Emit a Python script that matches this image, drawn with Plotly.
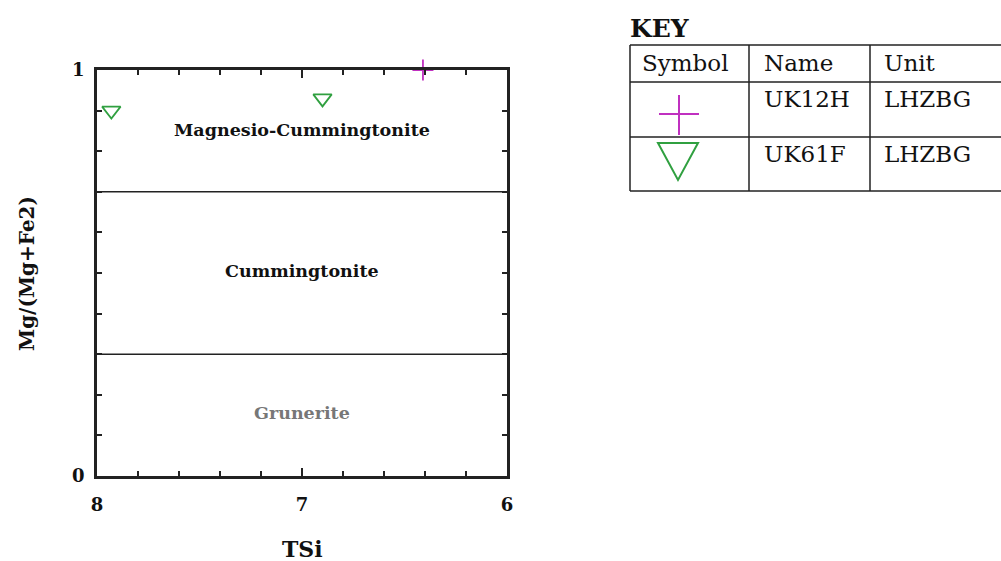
import plotly.graph_objects as go

# ---- data ----
uk12h_tsi = [6.41]
uk12h_mg = [1.00]
uk61f_tsi = [7.93, 6.90]
uk61f_mg = [0.90, 0.93]

boundaries = [0.7, 0.3]
fields = ["Magnesio-Cummingtonite", "Cummingtonite", "Grunerite"]
field_y = [0.852, 0.505, 0.155]

key_header = ["Symbol", "Name", "Unit"]
key_names = ["UK12H", "UK61F"]
key_units = ["LHZBG", "LHZBG"]

MAG = "#c030c0"
GRN = "#30a040"
W, H = 1001, 561
PL, PR, PT, PB = 97, 507, 70, 476
SERIF = "DejaVu Serif"

fig = go.Figure()
fig.add_trace(go.Scatter(x=uk12h_tsi, y=uk12h_mg, mode="markers", name="UK12H",
                         marker=dict(symbol="cross-thin-open", size=15, color=MAG,
                                     line=dict(color=MAG, width=1.8)),
                         cliponaxis=False, showlegend=False))
fig.add_trace(go.Scatter(x=uk61f_tsi, y=uk61f_mg, mode="markers", name="UK61F",
                         marker=dict(symbol="triangle-down-open", size=16,
                                     color=GRN, line=dict(color=GRN, width=1.8)),
                         cliponaxis=False, showlegend=False))

# field boundaries
for b in boundaries:
    fig.add_shape(type="line", xref="x", yref="y", x0=8, x1=6, y0=b, y1=b,
                  line=dict(color="#222", width=1.5))

for name, fy in zip(fields, field_y):
    fig.add_annotation(x=7.0, y=fy, xref="x", yref="y", text=f"<b>{name}</b>",
                       showarrow=False,
                       font=dict(family=SERIF, size=17.5,
                                 color="#777" if name == "Grunerite" else "#111"))

# axis titles (as annotations in pixel space)
fig.add_annotation(x=302, y=549, xref="x2", yref="y2", text="<b>TSi</b>",
                   showarrow=False, font=dict(family=SERIF, size=22, color="#111"))
fig.add_annotation(x=27, y=274, xref="x2", yref="y2", text="<b>Mg/(Mg+Fe2)</b>",
                   textangle=-90, showarrow=False,
                   font=dict(family=SERIF, size=20, color="#111"))

# ---- key table (pixel space on overlay axes) ----
fig.add_annotation(x=628, y=28, xref="x2", yref="y2", text="<b>KEY</b>",
                   xanchor="left", showarrow=False,
                   font=dict(family=SERIF, size=25, color="#111"))
cols = [630, 749, 870, 1010]
rows = [45, 82, 137, 191]
for r in rows:
    fig.add_shape(type="line", xref="x2", yref="y2", x0=cols[0], x1=cols[-1], y0=r, y1=r,
                  line=dict(color="#222", width=1.5))
for c in cols[:-1]:
    fig.add_shape(type="line", xref="x2", yref="y2", x0=c, x1=c, y0=rows[0], y1=rows[-1],
                  line=dict(color="#222", width=1.5))
hdr_x = [640, 762, 882]
for t, hx in zip(key_header, hdr_x):
    fig.add_annotation(x=hx, y=63, xref="x2", yref="y2", text=t, xanchor="left",
                       showarrow=False, font=dict(family=SERIF, size=23, color="#111"))
row_y = [99, 154]
for nm, un, ry in zip(key_names, key_units, row_y):
    fig.add_annotation(x=762, y=ry, xref="x2", yref="y2", text=nm, xanchor="left",
                       showarrow=False, font=dict(family=SERIF, size=23, color="#111"))
    fig.add_annotation(x=882, y=ry, xref="x2", yref="y2", text=un, xanchor="left",
                       showarrow=False, font=dict(family=SERIF, size=23, color="#111"))
# key glyphs
fig.add_shape(type="line", xref="x2", yref="y2", x0=659, x1=699, y0=114, y1=114,
              line=dict(color=MAG, width=2))
fig.add_shape(type="line", xref="x2", yref="y2", x0=679, x1=679, y0=95, y1=135,
              line=dict(color=MAG, width=2))
fig.add_shape(type="path", xref="x2", yref="y2", path="M 658 143 L 698 143 L 678 180 Z",
              line=dict(color=GRN, width=2))

fig.update_layout(
    width=W, height=H, margin=dict(l=0, r=0, t=0, b=0),
    paper_bgcolor="white", plot_bgcolor="rgba(0,0,0,0)", showlegend=False,
    xaxis=dict(domain=[PL / W, PR / W], range=[8, 6], tickvals=[8, 7, 6],
               ticks="inside", ticklen=8, tickwidth=1.5, tickcolor="#222",
               minor=dict(dtick=0.2, ticks="inside", ticklen=5, tickwidth=1.5, tickcolor="#222"),
               showline=True, linecolor="#222", linewidth=2.5, mirror="ticks",
               showgrid=False, zeroline=False, automargin=False, anchor="y",
               ticklabelstandoff=11,
               tickfont=dict(family=SERIF, size=18, color="#111", weight="bold"),
               tickformat="d"),
    yaxis=dict(domain=[(H - PB) / H, (H - PT) / H], range=[0, 1], tickvals=[0, 1],
               ticktext=["0", "1"],
               ticks="inside", ticklen=5, tickwidth=1.5, tickcolor="#222",
               minor=dict(dtick=0.1, ticks="inside", ticklen=5, tickwidth=1.5, tickcolor="#222"),
               showline=True, linecolor="#222", linewidth=2.5, mirror="ticks",
               showgrid=False, zeroline=False, automargin=False, anchor="x",
               ticklabelstandoff=6,
               tickfont=dict(family=SERIF, size=18, color="#111", weight="bold")),
    xaxis2=dict(domain=[0, 1], range=[0, W], visible=False, anchor="y2", fixedrange=True),
    yaxis2=dict(domain=[0, 1], range=[H, 0], visible=False, anchor="x2", fixedrange=True),
)

fig.write_html("out.html")
